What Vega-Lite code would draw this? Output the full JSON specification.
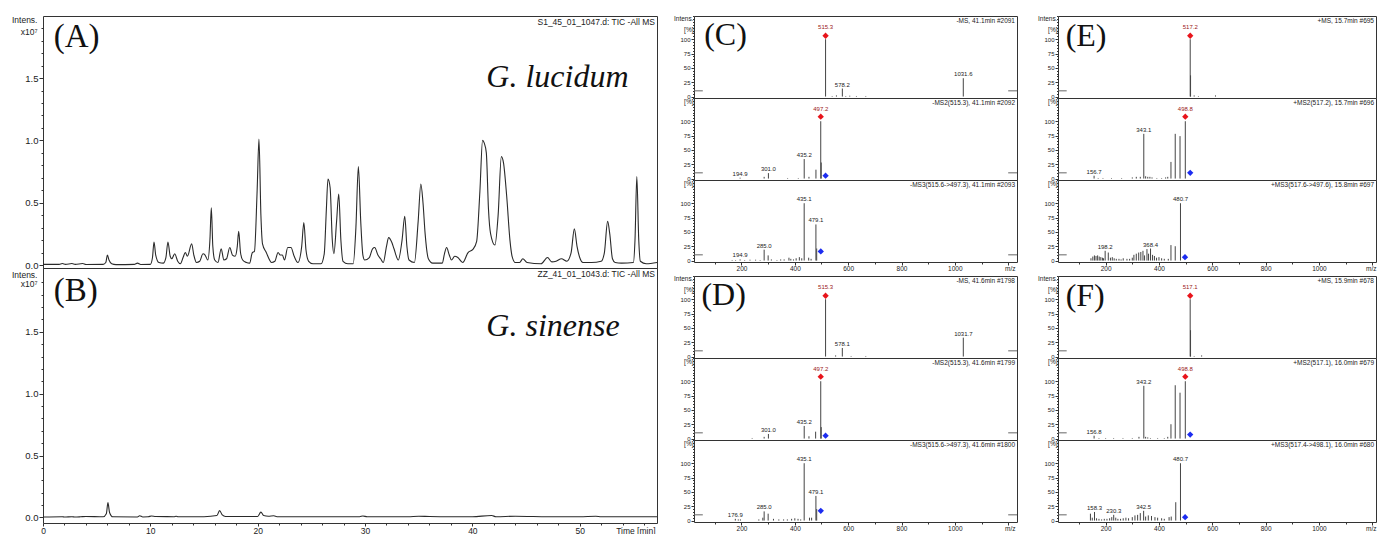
{
"$schema": "https://vega.github.io/schema/vega-lite/v6.json",
"padding": {"left": 10, "top": 12, "right": 0, "bottom": 0},
"background": "white",
"config": {
  "font": "Liberation Sans",
  "view": {"stroke": "#333", "strokeWidth": 1},
  "axis": {"domain": false, "grid": false, "tickColor": "#333", "labelColor": "#222", "labelFont": "Liberation Sans", "titleFont": "Liberation Sans", "titleFontWeight": "normal", "titleColor": "#222", "labelOverlap": false, "labelFlush": false, "labelBound": false},
  "text": {"font": "Liberation Sans"}
},
"datasets": {
"chromA": [
{"t":0,"v":0.005},{"t":1.5,"v":0.005},{"t":1.8,"v":0.012},{"t":2.1,"v":0.005},{"t":2.7,"v":0.012},{"t":3.0,"v":0.005},{"t":3.7,"v":0.012},{"t":4.0,"v":0.004},{"t":5.6,"v":0.005},{"t":5.85,"v":0.02},{"t":6.0,"v":0.08},{"t":6.15,"v":0.04},{"t":6.4,"v":0.01},{"t":6.8,"v":0.003},{"t":8.5,"v":0.005},{"t":8.8,"v":0.015},{"t":9.1,"v":0.004},{"t":10.0,"v":0.005},{"t":10.2,"v":0.06},{"t":10.34,"v":0.185},{"t":10.5,"v":0.08},{"t":10.8,"v":0.02},{"t":11.2,"v":0.015},{"t":11.45,"v":0.06},{"t":11.64,"v":0.185},{"t":11.85,"v":0.07},{"t":12.0,"v":0.05},{"t":12.27,"v":0.09},{"t":12.55,"v":0.03},{"t":12.8,"v":0.01},{"t":13.05,"v":0.06},{"t":13.26,"v":0.10},{"t":13.45,"v":0.07},{"t":13.85,"v":0.17},{"t":14.05,"v":0.08},{"t":14.3,"v":0.02},{"t":14.6,"v":0.03},{"t":14.9,"v":0.09},{"t":15.1,"v":0.08},{"t":15.35,"v":0.04},{"t":15.55,"v":0.2},{"t":15.68,"v":0.46},{"t":15.82,"v":0.15},{"t":16.0,"v":0.04},{"t":16.3,"v":0.02},{"t":16.6,"v":0.13},{"t":16.85,"v":0.04},{"t":17.1,"v":0.05},{"t":17.4,"v":0.14},{"t":17.65,"v":0.08},{"t":17.9,"v":0.07},{"t":18.1,"v":0.15},{"t":18.23,"v":0.27},{"t":18.4,"v":0.1},{"t":18.6,"v":0.04},{"t":18.95,"v":0.02},{"t":19.25,"v":0.015},{"t":19.5,"v":0.1},{"t":19.7,"v":0.11},{"t":19.95,"v":0.6},{"t":20.12,"v":1.01},{"t":20.3,"v":0.4},{"t":20.45,"v":0.17},{"t":20.8,"v":0.1},{"t":21.3,"v":0.02},{"t":21.6,"v":0.03},{"t":21.9,"v":0.1},{"t":22.1,"v":0.08},{"t":22.3,"v":0.08},{"t":22.5,"v":0.04},{"t":22.8,"v":0.14},{"t":23.1,"v":0.14},{"t":23.4,"v":0.07},{"t":23.75,"v":0.02},{"t":24.1,"v":0.15},{"t":24.3,"v":0.34},{"t":24.5,"v":0.12},{"t":24.75,"v":0.03},{"t":25.15,"v":0.01},{"t":25.9,"v":0.01},{"t":26.2,"v":0.09},{"t":26.4,"v":0.45},{"t":26.55,"v":0.69},{"t":26.75,"v":0.62},{"t":26.95,"v":0.2},{"t":27.1,"v":0.09},{"t":27.35,"v":0.35},{"t":27.55,"v":0.57},{"t":27.75,"v":0.2},{"t":27.95,"v":0.03},{"t":28.4,"v":0.01},{"t":28.9,"v":0.01},{"t":29.15,"v":0.3},{"t":29.38,"v":0.79},{"t":29.6,"v":0.35},{"t":29.8,"v":0.08},{"t":29.97,"v":0.04},{"t":30.4,"v":0.06},{"t":30.7,"v":0.13},{"t":30.9,"v":0.14},{"t":31.2,"v":0.08},{"t":31.45,"v":0.05},{"t":31.7,"v":0.02},{"t":32.0,"v":0.15},{"t":32.2,"v":0.22},{"t":32.5,"v":0.18},{"t":32.7,"v":0.13},{"t":33.1,"v":0.04},{"t":33.45,"v":0.2},{"t":33.7,"v":0.39},{"t":33.9,"v":0.15},{"t":34.1,"v":0.04},{"t":34.6,"v":0.02},{"t":34.95,"v":0.35},{"t":35.2,"v":0.65},{"t":35.4,"v":0.5},{"t":35.6,"v":0.25},{"t":35.9,"v":0.05},{"t":36.3,"v":0.015},{"t":37.2,"v":0.015},{"t":37.4,"v":0.09},{"t":37.6,"v":0.14},{"t":37.85,"v":0.08},{"t":38.05,"v":0.04},{"t":38.35,"v":0.07},{"t":38.65,"v":0.06},{"t":39.1,"v":0.02},{"t":39.6,"v":0.1},{"t":40.05,"v":0.125},{"t":40.4,"v":0.19},{"t":40.7,"v":0.59},{"t":40.95,"v":1.0},{"t":41.1,"v":0.98},{"t":41.3,"v":0.9},{"t":41.5,"v":0.45},{"t":41.7,"v":0.25},{"t":42.1,"v":0.16},{"t":42.4,"v":0.4},{"t":42.7,"v":0.87},{"t":42.9,"v":0.82},{"t":43.2,"v":0.55},{"t":43.5,"v":0.2},{"t":43.7,"v":0.07},{"t":44.0,"v":0.02},{"t":44.4,"v":0.02},{"t":44.7,"v":0.05},{"t":45.1,"v":0.02},{"t":46.4,"v":0.01},{"t":47.0,"v":0.06},{"t":47.4,"v":0.025},{"t":47.8,"v":0.03},{"t":48.3,"v":0.05},{"t":48.8,"v":0.03},{"t":49.2,"v":0.1},{"t":49.5,"v":0.29},{"t":49.75,"v":0.15},{"t":50.0,"v":0.06},{"t":50.3,"v":0.02},{"t":51.1,"v":0.02},{"t":52.0,"v":0.03},{"t":52.3,"v":0.1},{"t":52.6,"v":0.35},{"t":52.8,"v":0.25},{"t":53.05,"v":0.05},{"t":53.3,"v":0.02},{"t":53.9,"v":0.015},{"t":55.0,"v":0.02},{"t":55.15,"v":0.2},{"t":55.32,"v":0.71},{"t":55.5,"v":0.2},{"t":55.65,"v":0.03},{"t":56.2,"v":0.01},{"t":57.2,"v":0.02}
],
"chromB": [
{"t":0,"v":0.003},{"t":1.8,"v":0.006},{"t":2.0,"v":0.003},{"t":2.7,"v":0.006},{"t":3.0,"v":0.003},{"t":3.5,"v":0.005},{"t":4.0,"v":0.008},{"t":5.6,"v":0.005},{"t":5.9,"v":0.03},{"t":6.05,"v":0.12},{"t":6.2,"v":0.04},{"t":6.5,"v":0.005},{"t":8.8,"v":0.004},{"t":9.0,"v":0.014},{"t":9.3,"v":0.004},{"t":9.8,"v":0.005},{"t":10.1,"v":0.012},{"t":10.5,"v":0.007},{"t":12.2,"v":0.006},{"t":12.4,"v":0.01},{"t":12.6,"v":0.005},{"t":15.0,"v":0.006},{"t":16.2,"v":0.015},{"t":16.45,"v":0.055},{"t":16.7,"v":0.02},{"t":17.0,"v":0.007},{"t":20.0,"v":0.008},{"t":20.3,"v":0.043},{"t":20.55,"v":0.015},{"t":21.0,"v":0.01},{"t":21.5,"v":0.013},{"t":21.8,"v":0.006},{"t":25.0,"v":0.006},{"t":29.5,"v":0.006},{"t":29.8,"v":0.012},{"t":30.2,"v":0.005},{"t":34.0,"v":0.005},{"t":35.0,"v":0.01},{"t":36.0,"v":0.007},{"t":38.0,"v":0.005},{"t":40.0,"v":0.006},{"t":41.8,"v":0.015},{"t":42.2,"v":0.006},{"t":44.0,"v":0.01},{"t":47.0,"v":0.006},{"t":50.0,"v":0.005},{"t":51.5,"v":0.01},{"t":52.0,"v":0.005},{"t":57.2,"v":0.006}
],
"peaks": [
{"p":"C1","mz":515.3,"i":100,"lab":"515.3","k":"prec"},{"p":"C1","mz":540,"i":1},{"p":"C1","mz":556,"i":2},{"p":"C1","mz":578.2,"i":14,"lab":"578.2"},{"p":"C1","mz":591,"i":1},{"p":"C1","mz":606,"i":1.5},{"p":"C1","mz":631,"i":1},{"p":"C1","mz":666,"i":1},{"p":"C1","mz":1031.6,"i":32,"lab":"1031.6"},
{"p":"C2","mz":194.9,"i":1.5,"lab":"194.9"},{"p":"C2","mz":285,"i":3},{"p":"C2","mz":301.0,"i":9.5,"lab":"301.0"},{"p":"C2","mz":373,"i":1},{"p":"C2","mz":413,"i":1},{"p":"C2","mz":435.2,"i":34,"lab":"435.2"},{"p":"C2","mz":453,"i":3},{"p":"C2","mz":479.2,"i":15.5},{"p":"C2","mz":497.2,"i":100,"lab":"497.2","k":"prec"},{"p":"C2","mz":499,"i":28},
{"p":"C3","mz":165,"i":1},{"p":"C3","mz":178,"i":1},{"p":"C3","mz":194.9,"i":2,"lab":"194.9"},{"p":"C3","mz":212,"i":1},{"p":"C3","mz":232,"i":1.5},{"p":"C3","mz":253,"i":1.5},{"p":"C3","mz":270,"i":1},{"p":"C3","mz":285.0,"i":19,"lab":"285.0"},{"p":"C3","mz":300,"i":9},{"p":"C3","mz":312,"i":2},{"p":"C3","mz":333,"i":1},{"p":"C3","mz":347,"i":2},{"p":"C3","mz":360,"i":2},{"p":"C3","mz":378,"i":5},{"p":"C3","mz":385,"i":3},{"p":"C3","mz":395,"i":2},{"p":"C3","mz":405,"i":4},{"p":"C3","mz":417,"i":6},{"p":"C3","mz":426,"i":4},{"p":"C3","mz":435.1,"i":100,"lab":"435.1"},{"p":"C3","mz":452,"i":5},{"p":"C3","mz":461,"i":3},{"p":"C3","mz":479.1,"i":63,"lab":"479.1"},{"p":"C3","mz":482,"i":21},
{"p":"D1","mz":515.3,"i":100,"lab":"515.3","k":"prec"},{"p":"D1","mz":553,"i":2},{"p":"D1","mz":578.1,"i":15,"lab":"578.1"},{"p":"D1","mz":611,"i":1},{"p":"D1","mz":666,"i":1},{"p":"D1","mz":1031.7,"i":33,"lab":"1031.7"},
{"p":"D2","mz":240,"i":1},{"p":"D2","mz":285,"i":3},{"p":"D2","mz":301.0,"i":8,"lab":"301.0"},{"p":"D2","mz":435.2,"i":22,"lab":"435.2"},{"p":"D2","mz":453,"i":4},{"p":"D2","mz":478,"i":12},{"p":"D2","mz":497.2,"i":100,"lab":"497.2","k":"prec"},{"p":"D2","mz":499,"i":20},
{"p":"D3","mz":176.9,"i":3,"lab":"176.9"},{"p":"D3","mz":188,"i":2},{"p":"D3","mz":196,"i":2},{"p":"D3","mz":265,"i":2},{"p":"D3","mz":280,"i":5},{"p":"D3","mz":285.0,"i":16,"lab":"285.0"},{"p":"D3","mz":300,"i":12},{"p":"D3","mz":320,"i":3},{"p":"D3","mz":340,"i":2},{"p":"D3","mz":358,"i":2},{"p":"D3","mz":372,"i":2},{"p":"D3","mz":388,"i":3},{"p":"D3","mz":400,"i":4},{"p":"D3","mz":412,"i":3},{"p":"D3","mz":422,"i":2},{"p":"D3","mz":435.1,"i":100,"lab":"435.1"},{"p":"D3","mz":455,"i":5},{"p":"D3","mz":463,"i":5},{"p":"D3","mz":479.1,"i":43,"lab":"479.1"},{"p":"D3","mz":482,"i":20},
{"p":"E1","mz":517.2,"i":100,"lab":"517.2","k":"prec"},{"p":"E1","mz":518.5,"i":37},{"p":"E1","mz":532,"i":2},{"p":"E1","mz":548,"i":1},{"p":"E1","mz":612,"i":2},
{"p":"E2","mz":156.7,"i":5,"lab":"156.7"},{"p":"E2","mz":172,"i":1},{"p":"E2","mz":190,"i":1},{"p":"E2","mz":222,"i":1},{"p":"E2","mz":260,"i":1},{"p":"E2","mz":300,"i":2},{"p":"E2","mz":315,"i":3},{"p":"E2","mz":330,"i":3},{"p":"E2","mz":343.1,"i":78,"lab":"343.1"},{"p":"E2","mz":350,"i":4},{"p":"E2","mz":358,"i":3},{"p":"E2","mz":366,"i":3},{"p":"E2","mz":374,"i":2},{"p":"E2","mz":392,"i":1},{"p":"E2","mz":410,"i":1},{"p":"E2","mz":425,"i":2},{"p":"E2","mz":433,"i":3},{"p":"E2","mz":445,"i":29},{"p":"E2","mz":461,"i":78},{"p":"E2","mz":479,"i":74},{"p":"E2","mz":498.8,"i":100,"lab":"498.8","k":"prec"},
{"p":"E3","mz":145,"i":4},{"p":"E3","mz":152,"i":7},{"p":"E3","mz":158,"i":9},{"p":"E3","mz":164,"i":8},{"p":"E3","mz":170,"i":9},{"p":"E3","mz":176,"i":7},{"p":"E3","mz":182,"i":6},{"p":"E3","mz":188,"i":5},{"p":"E3","mz":192,"i":4},{"p":"E3","mz":198.2,"i":17,"lab":"198.2"},{"p":"E3","mz":210,"i":14},{"p":"E3","mz":218,"i":5},{"p":"E3","mz":225,"i":6},{"p":"E3","mz":232,"i":4},{"p":"E3","mz":240,"i":3},{"p":"E3","mz":250,"i":3},{"p":"E3","mz":258,"i":2},{"p":"E3","mz":266,"i":4},{"p":"E3","mz":280,"i":3},{"p":"E3","mz":290,"i":3},{"p":"E3","mz":300,"i":5},{"p":"E3","mz":306,"i":10},{"p":"E3","mz":315,"i":12},{"p":"E3","mz":324,"i":14},{"p":"E3","mz":332,"i":15},{"p":"E3","mz":340,"i":17},{"p":"E3","mz":346,"i":9},{"p":"E3","mz":355,"i":20},{"p":"E3","mz":361,"i":12},{"p":"E3","mz":368.4,"i":21,"lab":"368.4"},{"p":"E3","mz":376,"i":10},{"p":"E3","mz":383,"i":8},{"p":"E3","mz":391,"i":5},{"p":"E3","mz":400,"i":6},{"p":"E3","mz":410,"i":4},{"p":"E3","mz":420,"i":3},{"p":"E3","mz":435,"i":3},{"p":"E3","mz":445,"i":27},{"p":"E3","mz":461,"i":25},{"p":"E3","mz":480.7,"i":100,"lab":"480.7"},
{"p":"F1","mz":517.1,"i":100,"lab":"517.1","k":"prec"},{"p":"F1","mz":518.4,"i":46},{"p":"F1","mz":532,"i":1},{"p":"F1","mz":560,"i":2},
{"p":"F2","mz":156.8,"i":5,"lab":"156.8"},{"p":"F2","mz":175,"i":1},{"p":"F2","mz":200,"i":1},{"p":"F2","mz":230,"i":1},{"p":"F2","mz":265,"i":1},{"p":"F2","mz":300,"i":1},{"p":"F2","mz":325,"i":3},{"p":"F2","mz":343.2,"i":92,"lab":"343.2"},{"p":"F2","mz":350,"i":3},{"p":"F2","mz":358,"i":2},{"p":"F2","mz":368,"i":1},{"p":"F2","mz":395,"i":1},{"p":"F2","mz":420,"i":1},{"p":"F2","mz":433,"i":3},{"p":"F2","mz":445,"i":25},{"p":"F2","mz":461,"i":93},{"p":"F2","mz":479,"i":80},{"p":"F2","mz":498.8,"i":100,"lab":"498.8","k":"prec"},
{"p":"F3","mz":143,"i":12},{"p":"F3","mz":150,"i":5},{"p":"F3","mz":158.3,"i":15,"lab":"158.3"},{"p":"F3","mz":166,"i":4},{"p":"F3","mz":175,"i":3},{"p":"F3","mz":185,"i":2},{"p":"F3","mz":195,"i":3},{"p":"F3","mz":205,"i":3},{"p":"F3","mz":215,"i":4},{"p":"F3","mz":223,"i":6},{"p":"F3","mz":230.3,"i":10,"lab":"230.3"},{"p":"F3","mz":238,"i":5},{"p":"F3","mz":246,"i":3},{"p":"F3","mz":256,"i":3},{"p":"F3","mz":266,"i":4},{"p":"F3","mz":276,"i":5},{"p":"F3","mz":286,"i":4},{"p":"F3","mz":300,"i":6},{"p":"F3","mz":310,"i":9},{"p":"F3","mz":320,"i":10},{"p":"F3","mz":330,"i":13},{"p":"F3","mz":342.5,"i":17,"lab":"342.5"},{"p":"F3","mz":350,"i":7},{"p":"F3","mz":360,"i":9},{"p":"F3","mz":372,"i":8},{"p":"F3","mz":385,"i":6},{"p":"F3","mz":395,"i":5},{"p":"F3","mz":410,"i":4},{"p":"F3","mz":420,"i":3},{"p":"F3","mz":438,"i":6},{"p":"F3","mz":446,"i":7},{"p":"F3","mz":463,"i":32},{"p":"F3","mz":480.7,"i":100,"lab":"480.7"}
],
"dia": [
{"p":"C1","mz":515.3,"i":106,"k":"prec"},{"p":"C2","mz":497.2,"i":108,"k":"prec"},{"p":"C2","mz":515.3,"i":5,"k":"sel"},{"p":"C3","mz":497.3,"i":16,"k":"sel"},
{"p":"D1","mz":515.3,"i":106,"k":"prec"},{"p":"D2","mz":497.2,"i":108,"k":"prec"},{"p":"D2","mz":515.3,"i":5,"k":"sel"},{"p":"D3","mz":497.3,"i":17,"k":"sel"},
{"p":"E1","mz":517.2,"i":106,"k":"prec"},{"p":"E2","mz":498.8,"i":108,"k":"prec"},{"p":"E2","mz":517.2,"i":10,"k":"sel"},{"p":"E3","mz":497.6,"i":6,"k":"sel"},
{"p":"F1","mz":517.1,"i":106,"k":"prec"},{"p":"F2","mz":498.8,"i":108,"k":"prec"},{"p":"F2","mz":517.1,"i":7,"k":"sel"},{"p":"F3","mz":498.1,"i":6,"k":"sel"}
]
},
"spacing": 12,
"hconcat": [
{"vconcat": [
 {"width": 614, "height": 252,
  "resolve": {"axis": {"y": "independent", "x": "independent"}},
  "layer": [
   {"data": {"name": "chromA"}, "mark": {"type": "line", "color": "#2a2a2a", "strokeWidth": 1.1, "interpolate": "monotone"},
    "encoding": {"x": {"field": "t", "type": "quantitative", "scale": {"domain": [0, 57.2], "nice": false, "zero": false}, "axis": null},
     "y": {"field": "v", "type": "quantitative", "scale": {"domain": [-0.024, 1.998], "nice": false, "zero": false},
      "axis": {"orient": "left", "values": [0, 0.5, 1, 1.5], "format": ".1f", "tickSize": 4, "labelFontSize": 9.5, "labelPadding": 1, "title": ["Intens.", "x10⁷"], "titleAngle": 0, "titleAlign": "right", "titleBaseline": "top", "titleX": -6, "titleY": -1, "titleFontSize": 8.5, "titleLineHeight": 12}}}},
   {"data": {"name": "chromA"}, "mark": {"type": "line", "opacity": 0},
    "encoding": {"x": {"field": "t", "type": "quantitative", "axis": null},
     "y": {"field": "v", "type": "quantitative", "axis": {"orient": "left", "values": [0.1,0.2,0.3,0.4,0.6,0.7,0.8,0.9,1.1,1.2,1.3,1.4,1.6,1.7,1.8,1.9], "labels": false, "tickSize": 2, "title": null}}}},
   {"data": {"values": [{"h": "S1_45_01_1047.d: TIC -All MS"}]}, "mark": {"type": "text", "fontSize": 8.5, "align": "right", "baseline": "top", "dx": -2, "dy": 2, "color": "#222"}, "encoding": {"x": {"datum": 57.2, "axis": null}, "y": {"datum": 1.998, "axis": null}, "text": {"field": "h"}}},
   {"data": {"values": [{"lab": "(A)"}]}, "mark": {"type": "text", "font": "Liberation Serif", "fontSize": 33, "align": "left", "baseline": "middle", "color": "#111"}, "encoding": {"x": {"datum": 1.0, "axis": null}, "y": {"datum": 1.83, "axis": null}, "text": {"field": "lab"}}},
   {"data": {"values": [{"lab": "G. lucidum"}]}, "mark": {"type": "text", "font": "Liberation Serif", "fontStyle": "italic", "fontSize": 32, "align": "left", "baseline": "middle", "color": "#111"}, "encoding": {"x": {"datum": 41.3, "axis": null}, "y": {"datum": 1.51, "axis": null}, "text": {"field": "lab"}}}
  ]},
 {"width": 614, "height": 255,
  "resolve": {"axis": {"y": "independent", "x": "independent"}},
  "layer": [
   {"data": {"name": "chromB"}, "mark": {"type": "line", "color": "#2a2a2a", "strokeWidth": 1.1, "interpolate": "monotone"},
    "encoding": {"x": {"field": "t", "type": "quantitative", "scale": {"domain": [0, 57.2], "nice": false, "zero": false},
      "axis": {"orient": "bottom", "values": [0,10,20,30,40,50], "format": "d", "tickSize": 3, "labelFontSize": 8.5, "labelPadding": 0, "title": "Time [min]", "titleAnchor": "end", "titleAlign": "right", "titleBaseline": "top", "titleX": 612, "titleY": 3, "titleFontSize": 8.5}},
     "y": {"field": "v", "type": "quantitative", "scale": {"domain": [-0.045, 2.015], "nice": false, "zero": false},
      "axis": {"orient": "left", "values": [0, 0.5, 1, 1.5], "format": ".1f", "tickSize": 4, "labelFontSize": 9.5, "labelPadding": 1, "title": ["Intens.", "x10⁷"], "titleAngle": 0, "titleAlign": "right", "titleBaseline": "top", "titleX": -6, "titleY": 2, "titleFontSize": 8.5, "titleLineHeight": 9}}}},
   {"data": {"name": "chromB"}, "mark": {"type": "line", "opacity": 0},
    "encoding": {"x": {"field": "t", "type": "quantitative", "axis": {"orient": "bottom", "values": [2,4,6,8,12,14,16,18,22,24,26,28,32,34,36,38,42,44,46,48,52,54,56], "labels": false, "tickSize": 2, "title": null}},
     "y": {"field": "v", "type": "quantitative", "axis": {"orient": "left", "values": [0.1,0.2,0.3,0.4,0.6,0.7,0.8,0.9,1.1,1.2,1.3,1.4,1.6,1.7,1.8,1.9], "labels": false, "tickSize": 2, "title": null}}}},
   {"data": {"values": [{"h": "ZZ_41_01_1043.d: TIC -All MS"}]}, "mark": {"type": "text", "fontSize": 8.5, "align": "right", "baseline": "top", "dx": -2, "dy": 2, "color": "#222"}, "encoding": {"x": {"datum": 57.2, "axis": null}, "y": {"datum": 2.015, "axis": null}, "text": {"field": "h"}}},
   {"data": {"values": [{"lab": "(B)"}]}, "mark": {"type": "text", "font": "Liberation Serif", "fontSize": 33, "align": "left", "baseline": "middle", "color": "#111"}, "encoding": {"x": {"datum": 1.0, "axis": null}, "y": {"datum": 1.83, "axis": null}, "text": {"field": "lab"}}},
   {"data": {"values": [{"lab": "G. sinense"}]}, "mark": {"type": "text", "font": "Liberation Serif", "fontStyle": "italic", "fontSize": 32, "align": "left", "baseline": "middle", "color": "#111"}, "encoding": {"x": {"datum": 41.3, "axis": null}, "y": {"datum": 1.55, "axis": null}, "text": {"field": "lab"}}}
  ]}
], "spacing": 0, "bounds": "flush"},
{"spacing": 18, "hconcat": [
 {"spacing": 0, "vconcat": [
  {"vconcat": [
   {"width": 323, "height": 82,
    "resolve": {"axis": {"y": "independent", "x": "independent"}},
    "layer": [
     {"data": {"name": "peaks"},
      "encoding": {"x": {"field": "mz", "type": "quantitative", "scale": {"domain": [22, 1233], "nice": false, "zero": false}, "axis": null},
       "y": {"field": "i", "type": "quantitative", "scale": {"domain": [-2.5, 140.5], "nice": false, "zero": false},
        "axis": {"values": [0,5,10,15,20,25,30,35,40,45,50,55,60,65,70,75,80,85,90,95,100,105,110,115,120,125,130,135,140], "labelOverlap": false, "labelExpr": "datum.value % 25 === 0 && datum.value <= 100 ? datum.label : ''", "tickSize": {"condition": {"test": "datum.value % 25 === 0 && datum.value <= 100", "value": 3}, "value": 1.5}, "labelFontSize": 6, "labelPadding": 1, "title": ["Intens.", "[%]"], "titleAngle": 0, "titleAlign": "right", "titleBaseline": "top", "titleX": -1, "titleY": -1, "titleFontSize": 6.5, "titleLineHeight": 11}}},
      "layer": [
       {"transform": [{"filter": "datum.p === 'C1'"}], "mark": {"type": "rule", "color": "#444"}, "encoding": {"y2": {"datum": 0}}},
       {"transform": [{"filter": "datum.p === 'C1' && datum.lab && datum.k !== 'prec'"}], "mark": {"type": "text", "fontSize": 6, "dy": -1, "baseline": "bottom", "color": "#222"}, "encoding": {"text": {"field": "lab"}}},
       {"transform": [{"filter": "datum.p === 'C1' && datum.k === 'prec'"}], "mark": {"type": "text", "fontSize": 6, "dy": -9, "baseline": "bottom", "color": "#9a2020"}, "encoding": {"text": {"field": "lab"}}},
       {"data": {"name": "dia"}, "transform": [{"filter": "datum.p === 'C1'"}], "mark": {"type": "point", "shape": "diamond", "filled": true, "size": 40, "opacity": 1}, "encoding": {"color": {"field": "k", "type": "nominal", "scale": {"domain": ["prec", "sel"], "range": ["#e8141b", "#1c2cf0"]}, "legend": null}}}
      ]},
     {"data": {"values": [{"h": "-MS, 41.1min #2091"}]}, "mark": {"type": "text", "fontSize": 6.5, "align": "right", "baseline": "top", "dx": -2, "dy": 2, "color": "#222"}, "encoding": {"x": {"datum": 1233, "axis": null}, "y": {"datum": 140.5, "axis": null}, "text": {"field": "h"}}},
     {"data": {"values": [{"lab": "(C)"}]}, "mark": {"type": "text", "font": "Liberation Serif", "fontSize": 32, "align": "left", "baseline": "middle", "color": "#111"}, "encoding": {"x": {"datum": 60, "axis": null}, "y": {"datum": 107, "axis": null}, "text": {"field": "lab"}}},
     {"data": {"values": [{}]}, "mark": {"type": "rule", "color": "#666"}, "encoding": {"x": {"datum": 22, "axis": null}, "x2": {"datum": 55}, "y": {"datum": 10, "axis": null}}},
     {"data": {"values": [{}]}, "mark": {"type": "rule", "color": "#666"}, "encoding": {"x": {"datum": 1200, "axis": null}, "x2": {"datum": 1233}, "y": {"datum": 10, "axis": null}}}
    ]},
   {"width": 323, "height": 82,
    "resolve": {"axis": {"y": "independent", "x": "independent"}},
    "layer": [
     {"data": {"name": "peaks"},
      "encoding": {"x": {"field": "mz", "type": "quantitative", "scale": {"domain": [22, 1233], "nice": false, "zero": false}, "axis": null},
       "y": {"field": "i", "type": "quantitative", "scale": {"domain": [-2.5, 140.5], "nice": false, "zero": false},
        "axis": {"values": [0,5,10,15,20,25,30,35,40,45,50,55,60,65,70,75,80,85,90,95,100,105,110,115,120,125,130,135,140], "labelOverlap": false, "labelExpr": "datum.value % 25 === 0 && datum.value <= 100 ? datum.label : ''", "tickSize": {"condition": {"test": "datum.value % 25 === 0 && datum.value <= 100", "value": 3}, "value": 1.5}, "labelFontSize": 6, "labelPadding": 1, "title": "[%]", "titleAngle": 0, "titleAlign": "right", "titleBaseline": "top", "titleX": -1, "titleY": 0, "titleFontSize": 6.5}}},
      "layer": [
       {"transform": [{"filter": "datum.p === 'C2'"}], "mark": {"type": "rule", "color": "#444"}, "encoding": {"y2": {"datum": 0}}},
       {"transform": [{"filter": "datum.p === 'C2' && datum.lab && datum.k !== 'prec'"}], "mark": {"type": "text", "fontSize": 6, "dy": -1, "baseline": "bottom", "color": "#222"}, "encoding": {"text": {"field": "lab"}}},
       {"transform": [{"filter": "datum.p === 'C2' && datum.k === 'prec'"}], "mark": {"type": "text", "fontSize": 6, "dy": -9, "baseline": "bottom", "color": "#9a2020"}, "encoding": {"text": {"field": "lab"}}},
       {"data": {"name": "dia"}, "transform": [{"filter": "datum.p === 'C2'"}], "mark": {"type": "point", "shape": "diamond", "filled": true, "size": 40, "opacity": 1}, "encoding": {"color": {"field": "k", "type": "nominal", "scale": {"domain": ["prec", "sel"], "range": ["#e8141b", "#1c2cf0"]}, "legend": null}}}
      ]},
     {"data": {"values": [{"h": "-MS2(515.3), 41.1min #2092"}]}, "mark": {"type": "text", "fontSize": 6.5, "align": "right", "baseline": "top", "dx": -2, "dy": 2, "color": "#222"}, "encoding": {"x": {"datum": 1233, "axis": null}, "y": {"datum": 140.5, "axis": null}, "text": {"field": "h"}}},
     {"data": {"values": [{}]}, "mark": {"type": "rule", "color": "#666"}, "encoding": {"x": {"datum": 22, "axis": null}, "x2": {"datum": 55}, "y": {"datum": 10, "axis": null}}},
     {"data": {"values": [{}]}, "mark": {"type": "rule", "color": "#666"}, "encoding": {"x": {"datum": 1200, "axis": null}, "x2": {"datum": 1233}, "y": {"datum": 10, "axis": null}}}
    ]},
   {"width": 323, "height": 82,
    "resolve": {"axis": {"y": "independent", "x": "independent"}},
    "layer": [
     {"data": {"name": "peaks"},
      "encoding": {"x": {"field": "mz", "type": "quantitative", "scale": {"domain": [22, 1233], "nice": false, "zero": false},
        "axis": {"values": [100,200,300,400,500,600,700,800,900,1000,1100,1200], "labelOverlap": false, "format": "d", "labelExpr": "datum.value % 200 === 0 && datum.value <= 1000 ? datum.label : ''", "tickSize": {"condition": {"test": "datum.value % 200 === 0", "value": 3}, "value": 2}, "labelFontSize": 6.5, "labelPadding": 0, "title": "m/z", "titleAnchor": "end", "titleAlign": "right", "titleBaseline": "top", "titleX": 321, "titleY": 3, "titleFontSize": 6.5}},
       "y": {"field": "i", "type": "quantitative", "scale": {"domain": [-2.5, 140.5], "nice": false, "zero": false},
        "axis": {"values": [0,5,10,15,20,25,30,35,40,45,50,55,60,65,70,75,80,85,90,95,100,105,110,115,120,125,130,135,140], "labelOverlap": false, "labelExpr": "datum.value % 25 === 0 && datum.value <= 100 ? datum.label : ''", "tickSize": {"condition": {"test": "datum.value % 25 === 0 && datum.value <= 100", "value": 3}, "value": 1.5}, "labelFontSize": 6, "labelPadding": 1, "title": "[%]", "titleAngle": 0, "titleAlign": "right", "titleBaseline": "top", "titleX": -1, "titleY": 0, "titleFontSize": 6.5}}},
      "layer": [
       {"transform": [{"filter": "datum.p === 'C3'"}], "mark": {"type": "rule", "color": "#444"}, "encoding": {"y2": {"datum": 0}}},
       {"transform": [{"filter": "datum.p === 'C3' && datum.lab && datum.k !== 'prec'"}], "mark": {"type": "text", "fontSize": 6, "dy": -1, "baseline": "bottom", "color": "#222"}, "encoding": {"text": {"field": "lab"}}},
       {"data": {"name": "dia"}, "transform": [{"filter": "datum.p === 'C3'"}], "mark": {"type": "point", "shape": "diamond", "filled": true, "size": 40, "opacity": 1}, "encoding": {"color": {"field": "k", "type": "nominal", "scale": {"domain": ["prec", "sel"], "range": ["#e8141b", "#1c2cf0"]}, "legend": null}}}
      ]},
     {"data": {"values": [{"h": "-MS3(515.6->497.3), 41.1min #2093"}]}, "mark": {"type": "text", "fontSize": 6.5, "align": "right", "baseline": "top", "dx": -2, "dy": 2, "color": "#222"}, "encoding": {"x": {"datum": 1233, "axis": null}, "y": {"datum": 140.5, "axis": null}, "text": {"field": "h"}}},
     {"data": {"values": [{}]}, "mark": {"type": "rule", "color": "#666"}, "encoding": {"x": {"datum": 22, "axis": null}, "x2": {"datum": 55}, "y": {"datum": 10, "axis": null}}},
     {"data": {"values": [{}]}, "mark": {"type": "rule", "color": "#666"}, "encoding": {"x": {"datum": 1200, "axis": null}, "x2": {"datum": 1233}, "y": {"datum": 10, "axis": null}}}
    ]}
  ], "spacing": 0, "bounds": "flush"},
  {"vconcat": [
   {"width": 323, "height": 82,
    "resolve": {"axis": {"y": "independent", "x": "independent"}},
    "layer": [
     {"data": {"name": "peaks"},
      "encoding": {"x": {"field": "mz", "type": "quantitative", "scale": {"domain": [22, 1233], "nice": false, "zero": false}, "axis": null},
       "y": {"field": "i", "type": "quantitative", "scale": {"domain": [-2.5, 140.5], "nice": false, "zero": false},
        "axis": {"values": [0,5,10,15,20,25,30,35,40,45,50,55,60,65,70,75,80,85,90,95,100,105,110,115,120,125,130,135,140], "labelOverlap": false, "labelExpr": "datum.value % 25 === 0 && datum.value <= 100 ? datum.label : ''", "tickSize": {"condition": {"test": "datum.value % 25 === 0 && datum.value <= 100", "value": 3}, "value": 1.5}, "labelFontSize": 6, "labelPadding": 1, "title": ["Intens.", "[%]"], "titleAngle": 0, "titleAlign": "right", "titleBaseline": "top", "titleX": -1, "titleY": -1, "titleFontSize": 6.5, "titleLineHeight": 11}}},
      "layer": [
       {"transform": [{"filter": "datum.p === 'D1'"}], "mark": {"type": "rule", "color": "#444"}, "encoding": {"y2": {"datum": 0}}},
       {"transform": [{"filter": "datum.p === 'D1' && datum.lab && datum.k !== 'prec'"}], "mark": {"type": "text", "fontSize": 6, "dy": -1, "baseline": "bottom", "color": "#222"}, "encoding": {"text": {"field": "lab"}}},
       {"transform": [{"filter": "datum.p === 'D1' && datum.k === 'prec'"}], "mark": {"type": "text", "fontSize": 6, "dy": -9, "baseline": "bottom", "color": "#9a2020"}, "encoding": {"text": {"field": "lab"}}},
       {"data": {"name": "dia"}, "transform": [{"filter": "datum.p === 'D1'"}], "mark": {"type": "point", "shape": "diamond", "filled": true, "size": 40, "opacity": 1}, "encoding": {"color": {"field": "k", "type": "nominal", "scale": {"domain": ["prec", "sel"], "range": ["#e8141b", "#1c2cf0"]}, "legend": null}}}
      ]},
     {"data": {"values": [{"h": "-MS, 41.6min #1798"}]}, "mark": {"type": "text", "fontSize": 6.5, "align": "right", "baseline": "top", "dx": -2, "dy": 2, "color": "#222"}, "encoding": {"x": {"datum": 1233, "axis": null}, "y": {"datum": 140.5, "axis": null}, "text": {"field": "h"}}},
     {"data": {"values": [{"lab": "(D)"}]}, "mark": {"type": "text", "font": "Liberation Serif", "fontSize": 32, "align": "left", "baseline": "middle", "color": "#111"}, "encoding": {"x": {"datum": 50, "axis": null}, "y": {"datum": 107, "axis": null}, "text": {"field": "lab"}}},
     {"data": {"values": [{}]}, "mark": {"type": "rule", "color": "#666"}, "encoding": {"x": {"datum": 22, "axis": null}, "x2": {"datum": 55}, "y": {"datum": 10, "axis": null}}},
     {"data": {"values": [{}]}, "mark": {"type": "rule", "color": "#666"}, "encoding": {"x": {"datum": 1200, "axis": null}, "x2": {"datum": 1233}, "y": {"datum": 10, "axis": null}}}
    ]},
   {"width": 323, "height": 82,
    "resolve": {"axis": {"y": "independent", "x": "independent"}},
    "layer": [
     {"data": {"name": "peaks"},
      "encoding": {"x": {"field": "mz", "type": "quantitative", "scale": {"domain": [22, 1233], "nice": false, "zero": false}, "axis": null},
       "y": {"field": "i", "type": "quantitative", "scale": {"domain": [-2.5, 140.5], "nice": false, "zero": false},
        "axis": {"values": [0,5,10,15,20,25,30,35,40,45,50,55,60,65,70,75,80,85,90,95,100,105,110,115,120,125,130,135,140], "labelOverlap": false, "labelExpr": "datum.value % 25 === 0 && datum.value <= 100 ? datum.label : ''", "tickSize": {"condition": {"test": "datum.value % 25 === 0 && datum.value <= 100", "value": 3}, "value": 1.5}, "labelFontSize": 6, "labelPadding": 1, "title": "[%]", "titleAngle": 0, "titleAlign": "right", "titleBaseline": "top", "titleX": -1, "titleY": 0, "titleFontSize": 6.5}}},
      "layer": [
       {"transform": [{"filter": "datum.p === 'D2'"}], "mark": {"type": "rule", "color": "#444"}, "encoding": {"y2": {"datum": 0}}},
       {"transform": [{"filter": "datum.p === 'D2' && datum.lab && datum.k !== 'prec'"}], "mark": {"type": "text", "fontSize": 6, "dy": -1, "baseline": "bottom", "color": "#222"}, "encoding": {"text": {"field": "lab"}}},
       {"transform": [{"filter": "datum.p === 'D2' && datum.k === 'prec'"}], "mark": {"type": "text", "fontSize": 6, "dy": -9, "baseline": "bottom", "color": "#9a2020"}, "encoding": {"text": {"field": "lab"}}},
       {"data": {"name": "dia"}, "transform": [{"filter": "datum.p === 'D2'"}], "mark": {"type": "point", "shape": "diamond", "filled": true, "size": 40, "opacity": 1}, "encoding": {"color": {"field": "k", "type": "nominal", "scale": {"domain": ["prec", "sel"], "range": ["#e8141b", "#1c2cf0"]}, "legend": null}}}
      ]},
     {"data": {"values": [{"h": "-MS2(515.3), 41.6min #1799"}]}, "mark": {"type": "text", "fontSize": 6.5, "align": "right", "baseline": "top", "dx": -2, "dy": 2, "color": "#222"}, "encoding": {"x": {"datum": 1233, "axis": null}, "y": {"datum": 140.5, "axis": null}, "text": {"field": "h"}}},
     {"data": {"values": [{}]}, "mark": {"type": "rule", "color": "#666"}, "encoding": {"x": {"datum": 22, "axis": null}, "x2": {"datum": 55}, "y": {"datum": 10, "axis": null}}},
     {"data": {"values": [{}]}, "mark": {"type": "rule", "color": "#666"}, "encoding": {"x": {"datum": 1200, "axis": null}, "x2": {"datum": 1233}, "y": {"datum": 10, "axis": null}}}
    ]},
   {"width": 323, "height": 82,
    "resolve": {"axis": {"y": "independent", "x": "independent"}},
    "layer": [
     {"data": {"name": "peaks"},
      "encoding": {"x": {"field": "mz", "type": "quantitative", "scale": {"domain": [22, 1233], "nice": false, "zero": false},
        "axis": {"values": [100,200,300,400,500,600,700,800,900,1000,1100,1200], "labelOverlap": false, "format": "d", "labelExpr": "datum.value % 200 === 0 && datum.value <= 1000 ? datum.label : ''", "tickSize": {"condition": {"test": "datum.value % 200 === 0", "value": 3}, "value": 2}, "labelFontSize": 6.5, "labelPadding": 0, "title": "m/z", "titleAnchor": "end", "titleAlign": "right", "titleBaseline": "top", "titleX": 321, "titleY": 3, "titleFontSize": 6.5}},
       "y": {"field": "i", "type": "quantitative", "scale": {"domain": [-2.5, 140.5], "nice": false, "zero": false},
        "axis": {"values": [0,5,10,15,20,25,30,35,40,45,50,55,60,65,70,75,80,85,90,95,100,105,110,115,120,125,130,135,140], "labelOverlap": false, "labelExpr": "datum.value % 25 === 0 && datum.value <= 100 ? datum.label : ''", "tickSize": {"condition": {"test": "datum.value % 25 === 0 && datum.value <= 100", "value": 3}, "value": 1.5}, "labelFontSize": 6, "labelPadding": 1, "title": "[%]", "titleAngle": 0, "titleAlign": "right", "titleBaseline": "top", "titleX": -1, "titleY": 0, "titleFontSize": 6.5}}},
      "layer": [
       {"transform": [{"filter": "datum.p === 'D3'"}], "mark": {"type": "rule", "color": "#444"}, "encoding": {"y2": {"datum": 0}}},
       {"transform": [{"filter": "datum.p === 'D3' && datum.lab && datum.k !== 'prec'"}], "mark": {"type": "text", "fontSize": 6, "dy": -1, "baseline": "bottom", "color": "#222"}, "encoding": {"text": {"field": "lab"}}},
       {"data": {"name": "dia"}, "transform": [{"filter": "datum.p === 'D3'"}], "mark": {"type": "point", "shape": "diamond", "filled": true, "size": 40, "opacity": 1}, "encoding": {"color": {"field": "k", "type": "nominal", "scale": {"domain": ["prec", "sel"], "range": ["#e8141b", "#1c2cf0"]}, "legend": null}}}
      ]},
     {"data": {"values": [{"h": "-MS3(515.6->497.3), 41.6min #1800"}]}, "mark": {"type": "text", "fontSize": 6.5, "align": "right", "baseline": "top", "dx": -2, "dy": 2, "color": "#222"}, "encoding": {"x": {"datum": 1233, "axis": null}, "y": {"datum": 140.5, "axis": null}, "text": {"field": "h"}}},
     {"data": {"values": [{}]}, "mark": {"type": "rule", "color": "#666"}, "encoding": {"x": {"datum": 22, "axis": null}, "x2": {"datum": 55}, "y": {"datum": 10, "axis": null}}},
     {"data": {"values": [{}]}, "mark": {"type": "rule", "color": "#666"}, "encoding": {"x": {"datum": 1200, "axis": null}, "x2": {"datum": 1233}, "y": {"datum": 10, "axis": null}}}
    ]}
  ], "spacing": 0, "bounds": "flush"}
 ]},
 {"spacing": 0, "vconcat": [
  {"vconcat": [
   {"width": 318, "height": 82,
    "resolve": {"axis": {"y": "independent", "x": "independent"}},
    "layer": [
     {"data": {"name": "peaks"},
      "encoding": {"x": {"field": "mz", "type": "quantitative", "scale": {"domain": [21.4, 1213.9], "nice": false, "zero": false}, "axis": null},
       "y": {"field": "i", "type": "quantitative", "scale": {"domain": [-2.5, 140.5], "nice": false, "zero": false},
        "axis": {"values": [0,5,10,15,20,25,30,35,40,45,50,55,60,65,70,75,80,85,90,95,100,105,110,115,120,125,130,135,140], "labelOverlap": false, "labelExpr": "datum.value % 25 === 0 && datum.value <= 100 ? datum.label : ''", "tickSize": {"condition": {"test": "datum.value % 25 === 0 && datum.value <= 100", "value": 3}, "value": 1.5}, "labelFontSize": 6, "labelPadding": 1, "title": ["Intens.", "[%]"], "titleAngle": 0, "titleAlign": "right", "titleBaseline": "top", "titleX": -1, "titleY": -1, "titleFontSize": 6.5, "titleLineHeight": 11}}},
      "layer": [
       {"transform": [{"filter": "datum.p === 'E1'"}], "mark": {"type": "rule", "color": "#444"}, "encoding": {"y2": {"datum": 0}}},
       {"transform": [{"filter": "datum.p === 'E1' && datum.k === 'prec'"}], "mark": {"type": "text", "fontSize": 6, "dy": -9, "baseline": "bottom", "color": "#9a2020"}, "encoding": {"text": {"field": "lab"}}},
       {"data": {"name": "dia"}, "transform": [{"filter": "datum.p === 'E1'"}], "mark": {"type": "point", "shape": "diamond", "filled": true, "size": 40, "opacity": 1}, "encoding": {"color": {"field": "k", "type": "nominal", "scale": {"domain": ["prec", "sel"], "range": ["#e8141b", "#1c2cf0"]}, "legend": null}}}
      ]},
     {"data": {"values": [{"h": "+MS, 15.7min #695"}]}, "mark": {"type": "text", "fontSize": 6.5, "align": "right", "baseline": "top", "dx": -2, "dy": 2, "color": "#222"}, "encoding": {"x": {"datum": 1213.9, "axis": null}, "y": {"datum": 140.5, "axis": null}, "text": {"field": "h"}}},
     {"data": {"values": [{"lab": "(E)"}]}, "mark": {"type": "text", "font": "Liberation Serif", "fontSize": 32, "align": "left", "baseline": "middle", "color": "#111"}, "encoding": {"x": {"datum": 50, "axis": null}, "y": {"datum": 106, "axis": null}, "text": {"field": "lab"}}},
     {"data": {"values": [{}]}, "mark": {"type": "rule", "color": "#666"}, "encoding": {"x": {"datum": 21.4, "axis": null}, "x2": {"datum": 54}, "y": {"datum": 10, "axis": null}}}
    ]},
   {"width": 318, "height": 82,
    "resolve": {"axis": {"y": "independent", "x": "independent"}},
    "layer": [
     {"data": {"name": "peaks"},
      "encoding": {"x": {"field": "mz", "type": "quantitative", "scale": {"domain": [21.4, 1213.9], "nice": false, "zero": false}, "axis": null},
       "y": {"field": "i", "type": "quantitative", "scale": {"domain": [-2.5, 140.5], "nice": false, "zero": false},
        "axis": {"values": [0,5,10,15,20,25,30,35,40,45,50,55,60,65,70,75,80,85,90,95,100,105,110,115,120,125,130,135,140], "labelOverlap": false, "labelExpr": "datum.value % 25 === 0 && datum.value <= 100 ? datum.label : ''", "tickSize": {"condition": {"test": "datum.value % 25 === 0 && datum.value <= 100", "value": 3}, "value": 1.5}, "labelFontSize": 6, "labelPadding": 1, "title": "[%]", "titleAngle": 0, "titleAlign": "right", "titleBaseline": "top", "titleX": -1, "titleY": 0, "titleFontSize": 6.5}}},
      "layer": [
       {"transform": [{"filter": "datum.p === 'E2'"}], "mark": {"type": "rule", "color": "#444"}, "encoding": {"y2": {"datum": 0}}},
       {"transform": [{"filter": "datum.p === 'E2' && datum.lab && datum.k !== 'prec'"}], "mark": {"type": "text", "fontSize": 6, "dy": -1, "baseline": "bottom", "color": "#222"}, "encoding": {"text": {"field": "lab"}}},
       {"transform": [{"filter": "datum.p === 'E2' && datum.k === 'prec'"}], "mark": {"type": "text", "fontSize": 6, "dy": -9, "baseline": "bottom", "color": "#9a2020"}, "encoding": {"text": {"field": "lab"}}},
       {"data": {"name": "dia"}, "transform": [{"filter": "datum.p === 'E2'"}], "mark": {"type": "point", "shape": "diamond", "filled": true, "size": 40, "opacity": 1}, "encoding": {"color": {"field": "k", "type": "nominal", "scale": {"domain": ["prec", "sel"], "range": ["#e8141b", "#1c2cf0"]}, "legend": null}}}
      ]},
     {"data": {"values": [{"h": "+MS2(517.2), 15.7min #696"}]}, "mark": {"type": "text", "fontSize": 6.5, "align": "right", "baseline": "top", "dx": -2, "dy": 2, "color": "#222"}, "encoding": {"x": {"datum": 1213.9, "axis": null}, "y": {"datum": 140.5, "axis": null}, "text": {"field": "h"}}},
     {"data": {"values": [{}]}, "mark": {"type": "rule", "color": "#666"}, "encoding": {"x": {"datum": 21.4, "axis": null}, "x2": {"datum": 54}, "y": {"datum": 10, "axis": null}}}
    ]},
   {"width": 318, "height": 82,
    "resolve": {"axis": {"y": "independent", "x": "independent"}},
    "layer": [
     {"data": {"name": "peaks"},
      "encoding": {"x": {"field": "mz", "type": "quantitative", "scale": {"domain": [21.4, 1213.9], "nice": false, "zero": false},
        "axis": {"values": [100,200,300,400,500,600,700,800,900,1000,1100,1200], "labelOverlap": false, "format": "d", "labelExpr": "datum.value % 200 === 0 && datum.value <= 1000 ? datum.label : ''", "tickSize": {"condition": {"test": "datum.value % 200 === 0", "value": 3}, "value": 2}, "labelFontSize": 6.5, "labelPadding": 0, "title": "m/z", "titleAnchor": "end", "titleAlign": "right", "titleBaseline": "top", "titleX": 318, "titleY": 3, "titleFontSize": 6.5}},
       "y": {"field": "i", "type": "quantitative", "scale": {"domain": [-2.5, 140.5], "nice": false, "zero": false},
        "axis": {"values": [0,5,10,15,20,25,30,35,40,45,50,55,60,65,70,75,80,85,90,95,100,105,110,115,120,125,130,135,140], "labelOverlap": false, "labelExpr": "datum.value % 25 === 0 && datum.value <= 100 ? datum.label : ''", "tickSize": {"condition": {"test": "datum.value % 25 === 0 && datum.value <= 100", "value": 3}, "value": 1.5}, "labelFontSize": 6, "labelPadding": 1, "title": "[%]", "titleAngle": 0, "titleAlign": "right", "titleBaseline": "top", "titleX": -1, "titleY": 0, "titleFontSize": 6.5}}},
      "layer": [
       {"transform": [{"filter": "datum.p === 'E3'"}], "mark": {"type": "rule", "color": "#444"}, "encoding": {"y2": {"datum": 0}}},
       {"transform": [{"filter": "datum.p === 'E3' && datum.lab && datum.k !== 'prec'"}], "mark": {"type": "text", "fontSize": 6, "dy": -1, "baseline": "bottom", "color": "#222"}, "encoding": {"text": {"field": "lab"}}},
       {"data": {"name": "dia"}, "transform": [{"filter": "datum.p === 'E3'"}], "mark": {"type": "point", "shape": "diamond", "filled": true, "size": 40, "opacity": 1}, "encoding": {"color": {"field": "k", "type": "nominal", "scale": {"domain": ["prec", "sel"], "range": ["#e8141b", "#1c2cf0"]}, "legend": null}}}
      ]},
     {"data": {"values": [{"h": "+MS3(517.6->497.6), 15.8min #697"}]}, "mark": {"type": "text", "fontSize": 6.5, "align": "right", "baseline": "top", "dx": -2, "dy": 2, "color": "#222"}, "encoding": {"x": {"datum": 1213.9, "axis": null}, "y": {"datum": 140.5, "axis": null}, "text": {"field": "h"}}},
     {"data": {"values": [{}]}, "mark": {"type": "rule", "color": "#666"}, "encoding": {"x": {"datum": 21.4, "axis": null}, "x2": {"datum": 54}, "y": {"datum": 10, "axis": null}}}
    ]}
  ], "spacing": 0, "bounds": "flush"},
  {"vconcat": [
   {"width": 318, "height": 82,
    "resolve": {"axis": {"y": "independent", "x": "independent"}},
    "layer": [
     {"data": {"name": "peaks"},
      "encoding": {"x": {"field": "mz", "type": "quantitative", "scale": {"domain": [21.4, 1213.9], "nice": false, "zero": false}, "axis": null},
       "y": {"field": "i", "type": "quantitative", "scale": {"domain": [-2.5, 140.5], "nice": false, "zero": false},
        "axis": {"values": [0,5,10,15,20,25,30,35,40,45,50,55,60,65,70,75,80,85,90,95,100,105,110,115,120,125,130,135,140], "labelOverlap": false, "labelExpr": "datum.value % 25 === 0 && datum.value <= 100 ? datum.label : ''", "tickSize": {"condition": {"test": "datum.value % 25 === 0 && datum.value <= 100", "value": 3}, "value": 1.5}, "labelFontSize": 6, "labelPadding": 1, "title": ["Intens.", "[%]"], "titleAngle": 0, "titleAlign": "right", "titleBaseline": "top", "titleX": -1, "titleY": -1, "titleFontSize": 6.5, "titleLineHeight": 11}}},
      "layer": [
       {"transform": [{"filter": "datum.p === 'F1'"}], "mark": {"type": "rule", "color": "#444"}, "encoding": {"y2": {"datum": 0}}},
       {"transform": [{"filter": "datum.p === 'F1' && datum.k === 'prec'"}], "mark": {"type": "text", "fontSize": 6, "dy": -9, "baseline": "bottom", "color": "#9a2020"}, "encoding": {"text": {"field": "lab"}}},
       {"data": {"name": "dia"}, "transform": [{"filter": "datum.p === 'F1'"}], "mark": {"type": "point", "shape": "diamond", "filled": true, "size": 40, "opacity": 1}, "encoding": {"color": {"field": "k", "type": "nominal", "scale": {"domain": ["prec", "sel"], "range": ["#e8141b", "#1c2cf0"]}, "legend": null}}}
      ]},
     {"data": {"values": [{"h": "+MS, 15.9min #678"}]}, "mark": {"type": "text", "fontSize": 6.5, "align": "right", "baseline": "top", "dx": -2, "dy": 2, "color": "#222"}, "encoding": {"x": {"datum": 1213.9, "axis": null}, "y": {"datum": 140.5, "axis": null}, "text": {"field": "h"}}},
     {"data": {"values": [{"lab": "(F)"}]}, "mark": {"type": "text", "font": "Liberation Serif", "fontSize": 32, "align": "left", "baseline": "middle", "color": "#111"}, "encoding": {"x": {"datum": 50, "axis": null}, "y": {"datum": 106, "axis": null}, "text": {"field": "lab"}}},
     {"data": {"values": [{}]}, "mark": {"type": "rule", "color": "#666"}, "encoding": {"x": {"datum": 21.4, "axis": null}, "x2": {"datum": 54}, "y": {"datum": 10, "axis": null}}}
    ]},
   {"width": 318, "height": 82,
    "resolve": {"axis": {"y": "independent", "x": "independent"}},
    "layer": [
     {"data": {"name": "peaks"},
      "encoding": {"x": {"field": "mz", "type": "quantitative", "scale": {"domain": [21.4, 1213.9], "nice": false, "zero": false}, "axis": null},
       "y": {"field": "i", "type": "quantitative", "scale": {"domain": [-2.5, 140.5], "nice": false, "zero": false},
        "axis": {"values": [0,5,10,15,20,25,30,35,40,45,50,55,60,65,70,75,80,85,90,95,100,105,110,115,120,125,130,135,140], "labelOverlap": false, "labelExpr": "datum.value % 25 === 0 && datum.value <= 100 ? datum.label : ''", "tickSize": {"condition": {"test": "datum.value % 25 === 0 && datum.value <= 100", "value": 3}, "value": 1.5}, "labelFontSize": 6, "labelPadding": 1, "title": "[%]", "titleAngle": 0, "titleAlign": "right", "titleBaseline": "top", "titleX": -1, "titleY": 0, "titleFontSize": 6.5}}},
      "layer": [
       {"transform": [{"filter": "datum.p === 'F2'"}], "mark": {"type": "rule", "color": "#444"}, "encoding": {"y2": {"datum": 0}}},
       {"transform": [{"filter": "datum.p === 'F2' && datum.lab && datum.k !== 'prec'"}], "mark": {"type": "text", "fontSize": 6, "dy": -1, "baseline": "bottom", "color": "#222"}, "encoding": {"text": {"field": "lab"}}},
       {"transform": [{"filter": "datum.p === 'F2' && datum.k === 'prec'"}], "mark": {"type": "text", "fontSize": 6, "dy": -9, "baseline": "bottom", "color": "#9a2020"}, "encoding": {"text": {"field": "lab"}}},
       {"data": {"name": "dia"}, "transform": [{"filter": "datum.p === 'F2'"}], "mark": {"type": "point", "shape": "diamond", "filled": true, "size": 40, "opacity": 1}, "encoding": {"color": {"field": "k", "type": "nominal", "scale": {"domain": ["prec", "sel"], "range": ["#e8141b", "#1c2cf0"]}, "legend": null}}}
      ]},
     {"data": {"values": [{"h": "+MS2(517.1), 16.0min #679"}]}, "mark": {"type": "text", "fontSize": 6.5, "align": "right", "baseline": "top", "dx": -2, "dy": 2, "color": "#222"}, "encoding": {"x": {"datum": 1213.9, "axis": null}, "y": {"datum": 140.5, "axis": null}, "text": {"field": "h"}}},
     {"data": {"values": [{}]}, "mark": {"type": "rule", "color": "#666"}, "encoding": {"x": {"datum": 21.4, "axis": null}, "x2": {"datum": 54}, "y": {"datum": 10, "axis": null}}}
    ]},
   {"width": 318, "height": 82,
    "resolve": {"axis": {"y": "independent", "x": "independent"}},
    "layer": [
     {"data": {"name": "peaks"},
      "encoding": {"x": {"field": "mz", "type": "quantitative", "scale": {"domain": [21.4, 1213.9], "nice": false, "zero": false},
        "axis": {"values": [100,200,300,400,500,600,700,800,900,1000,1100,1200], "labelOverlap": false, "format": "d", "labelExpr": "datum.value % 200 === 0 && datum.value <= 1000 ? datum.label : ''", "tickSize": {"condition": {"test": "datum.value % 200 === 0", "value": 3}, "value": 2}, "labelFontSize": 6.5, "labelPadding": 0, "title": "m/z", "titleAnchor": "end", "titleAlign": "right", "titleBaseline": "top", "titleX": 318, "titleY": 3, "titleFontSize": 6.5}},
       "y": {"field": "i", "type": "quantitative", "scale": {"domain": [-2.5, 140.5], "nice": false, "zero": false},
        "axis": {"values": [0,5,10,15,20,25,30,35,40,45,50,55,60,65,70,75,80,85,90,95,100,105,110,115,120,125,130,135,140], "labelOverlap": false, "labelExpr": "datum.value % 25 === 0 && datum.value <= 100 ? datum.label : ''", "tickSize": {"condition": {"test": "datum.value % 25 === 0 && datum.value <= 100", "value": 3}, "value": 1.5}, "labelFontSize": 6, "labelPadding": 1, "title": "[%]", "titleAngle": 0, "titleAlign": "right", "titleBaseline": "top", "titleX": -1, "titleY": 0, "titleFontSize": 6.5}}},
      "layer": [
       {"transform": [{"filter": "datum.p === 'F3'"}], "mark": {"type": "rule", "color": "#444"}, "encoding": {"y2": {"datum": 0}}},
       {"transform": [{"filter": "datum.p === 'F3' && datum.lab && datum.k !== 'prec'"}], "mark": {"type": "text", "fontSize": 6, "dy": -1, "baseline": "bottom", "color": "#222"}, "encoding": {"text": {"field": "lab"}}},
       {"data": {"name": "dia"}, "transform": [{"filter": "datum.p === 'F3'"}], "mark": {"type": "point", "shape": "diamond", "filled": true, "size": 40, "opacity": 1}, "encoding": {"color": {"field": "k", "type": "nominal", "scale": {"domain": ["prec", "sel"], "range": ["#e8141b", "#1c2cf0"]}, "legend": null}}}
      ]},
     {"data": {"values": [{"h": "+MS3(517.4->498.1), 16.0min #680"}]}, "mark": {"type": "text", "fontSize": 6.5, "align": "right", "baseline": "top", "dx": -2, "dy": 2, "color": "#222"}, "encoding": {"x": {"datum": 1213.9, "axis": null}, "y": {"datum": 140.5, "axis": null}, "text": {"field": "h"}}},
     {"data": {"values": [{}]}, "mark": {"type": "rule", "color": "#666"}, "encoding": {"x": {"datum": 21.4, "axis": null}, "x2": {"datum": 54}, "y": {"datum": 10, "axis": null}}}
    ]}
  ], "spacing": 0, "bounds": "flush"}
 ]}
]}
]
}
